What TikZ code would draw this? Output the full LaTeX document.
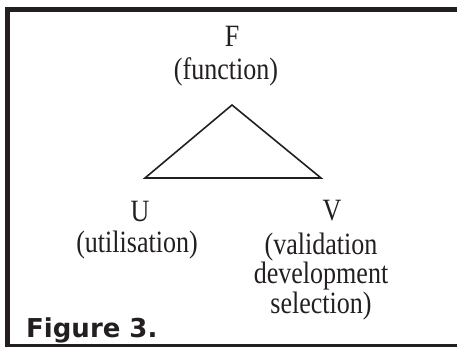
\documentclass[tikz,border=0pt]{standalone}
\usepackage{fontspec}
\newfontfamily\lblfont{Liberation Serif}[FakeStretch=0.84]
\newfontfamily\capfont{DejaVu Sans}
\definecolor{ink}{HTML}{231F20}
\begin{document}
\begin{tikzpicture}[x=1pt,y=-1pt,
  lbl/.style={inner sep=0pt,anchor=base,text=ink,
    font=\lblfont\fontsize{31pt}{27pt}\selectfont},
  frameline/.style={draw=ink,line cap=butt},
  edge/.style={draw=ink,line width=1.6pt,line join=miter}]
  \useasboundingbox (0,0) rectangle (457,347);
  % open frame: thick left and top rules, thinner bottom rule
  \draw[frameline,line width=5pt] (7.5,7) -- (7.5,347);
  \draw[frameline,line width=5pt] (5,9.5) -- (457,9.5);
  \draw[frameline,line width=3pt] (5,345.5) -- (457,345.5);
  % triangle corners
  \coordinate (f) at (232,105);
  \coordinate (u) at (145,178);
  \coordinate (v) at (321,178);
  \draw[edge] (f) -- (u) -- (v) -- cycle;
  % vertex labels
  \node[lbl] (F)  at (232,47)  {F};
  \node[lbl] (Fd) at (226,80)  {(function)};
  \node[lbl] (U)  at (140,222) {U};
  \node[lbl] (Ud) at (137,252) {(utilisation)};
  \node[lbl] (V)  at (332,221) {V};
  % three-line label: base anchor sits on the last line
  \node[lbl,align=center] (Vd) at (321,313) {(validation\\development\\selection)};
  % caption
  \node[inner sep=0pt,anchor=base west,text=ink,
    font=\capfont\bfseries\fontsize{26pt}{30pt}\selectfont] (cap) at (26,337) {Figure 3.};
\end{tikzpicture}
\end{document}
